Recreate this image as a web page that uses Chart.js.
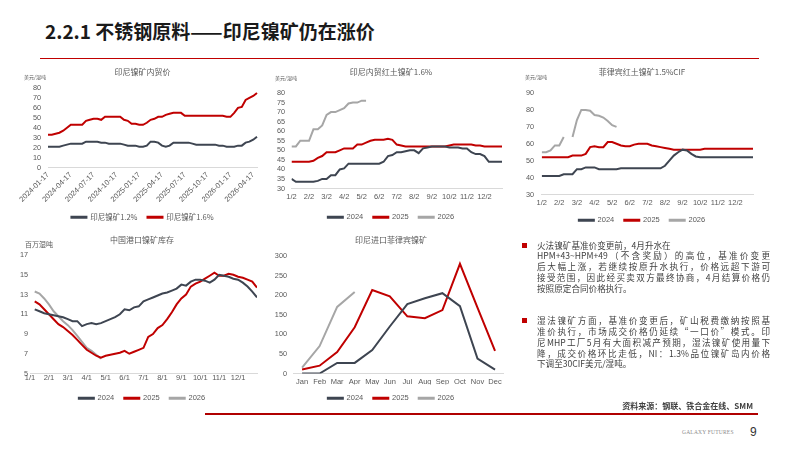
<!DOCTYPE html>
<html><head><meta charset="utf-8">
<script src="https://cdn.jsdelivr.net/npm/chart.js@4.4.1/dist/chart.umd.min.js"></script>
<style>
html,body{margin:0;padding:0;background:#fff;}
body{width:799px;height:450px;position:relative;overflow:hidden;font-family:"Noto Sans CJK SC","Noto Sans",sans-serif;}
.abs{position:absolute;}
.box{position:absolute;}
.title{left:45px;top:20px;font-size:19px;font-weight:bold;color:#1a1a1a;line-height:22px;white-space:nowrap;}
.unit{position:absolute;color:#595959;white-space:nowrap;line-height:1;}
.txt{position:absolute;left:537px;width:233px;font-size:8.6px;line-height:10.8px;color:#3F3F3F;}
.txt div{white-space:nowrap;}
.j{text-align:justify;text-align-last:justify;}
.bul{position:absolute;width:5px;height:5px;background:#C00000;}
</style></head><body>
<div class="abs title">2.2.1 不锈钢原料——印尼镍矿仍在涨价</div>
<div class="abs" style="left:40px;top:57.5px;width:719px;height:1.6px;background:#C00000;"></div>

<div class="box" style="left:12px;top:62px;width:261px;height:169px;"><canvas id="c1"></canvas></div>
<div class="box" style="left:262px;top:62px;width:258px;height:169px;"><canvas id="c2"></canvas></div>
<div class="box" style="left:512px;top:62px;width:260px;height:172px;"><canvas id="c3"></canvas></div>
<div class="box" style="left:12px;top:232px;width:260px;height:180px;"><canvas id="c4"></canvas></div>
<div class="box" style="left:270px;top:232px;width:242px;height:180px;"><canvas id="c5"></canvas></div>

<div class="unit" style="left:24px;top:73.5px;font-size:5px;">美元/湿吨</div>
<div class="unit" style="left:275px;top:74.5px;font-size:5px;">美元/湿吨</div>
<div class="unit" style="left:525px;top:73.5px;font-size:5px;">美元/湿吨</div>
<div class="unit" style="left:25px;top:241px;font-size:7px;">百万湿吨</div>

<div class="bul" style="left:522px;top:242.5px;"></div>
<div class="txt" style="top:239.6px;">
<div>火法镍矿基准价变更前，4月升水在</div>
<div class="j">HPM+43~HPM+49（不含奖励）的高位，基准价变更</div>
<div class="j">后大幅上涨，若继续按原升水执行，价格远超下游可</div>
<div class="j">接受范围，因此经买卖双方最终协商，4月结算价格仍</div>
<div>按照原定合同价格执行。</div>
</div>
<div class="bul" style="left:522px;top:318.2px;"></div>
<div class="txt" style="top:315.3px;">
<div class="j">湿法镍矿方面，基准价变更后，矿山税费缴纳按照基</div>
<div class="j">准价执行，市场成交价格仍延续“一口价”模式。印</div>
<div class="j">尼MHP工厂5月有大面积减产预期，湿法镍矿使用量下</div>
<div class="j">降，成交价格环比走低，NI：1.3%品位镍矿岛内价格</div>
<div>下调至30CIF美元/湿吨。</div>
</div>

<div class="abs" style="right:46px;top:401px;font-size:8px;font-weight:bold;color:#404040;white-space:nowrap;line-height:10px;">资料来源：钢联、铁合金在线、SMM</div>
<div class="abs" style="left:205px;top:412.5px;width:553px;height:2.6px;background:#B00000;"></div>
<div class="abs" style="left:682px;top:429px;font-size:5.5px;font-family:'Liberation Serif',serif;color:#8c8c8c;white-space:nowrap;line-height:6px;letter-spacing:0.2px;">GALAXY FUTURES</div>
<div class="abs" style="left:750px;top:425px;font-size:12px;font-family:'Liberation Sans',sans-serif;color:#333;line-height:14px;">9</div>

<script>
// ---------- DATA ----------
// Chart 1: 印尼镍矿内贸价 (semi-monthly)
const cats1 = ['2024-01-17','2024-02-01','2024-02-17','2024-03-01','2024-03-17','2024-04-01','2024-04-17','2024-05-01','2024-05-17','2024-06-01','2024-06-17','2024-07-01','2024-07-17','2024-08-01','2024-08-17','2024-09-01','2024-09-17','2024-10-01','2024-10-17','2024-11-01','2024-11-17','2024-12-01','2024-12-17','2025-01-01','2025-01-17','2025-02-01','2025-02-17','2025-03-01','2025-03-17','2025-04-01','2025-04-17','2025-05-01','2025-05-17','2025-06-01','2025-06-17','2025-07-01','2025-07-17','2025-08-01','2025-08-17','2025-09-01','2025-09-17','2025-10-01','2025-10-17','2025-11-01','2025-11-17','2025-12-01','2025-12-17','2026-01-01','2026-01-17','2026-02-01','2026-02-17','2026-03-01','2026-03-17','2026-04-01','2026-04-17','2026-05-01'];
const ore12 = [21,21,21,21,22,23,24,24,24,24, 26,26,26,26,25,25,24,24,24,24, 23,22,22,22,21,21,22,26,26,25, 22,21,22,25,25,25,25,25,24,23, 23,23,23,23,23,22,22,21,21,21, 22,22,25,26,28,31];
const ore16 = [33,33,34,35,37,40,43,43,43,43, 47,48,49,49,48,51,51,51,51,51, 48,47,44,44,43,43,45,48,49,51, 51,53,54,55,55,55,52,52,52,52, 52,52,52,52,52,52,52,51,51,55, 60,61,68,70,72,75];
const names1 = ['印尼镍矿1.2%','印尼镍矿1.6%'];

// Chart 2: 印尼内贸红土镍矿1.6% (quarter-month steps from 1/2)
const monthLabels2 = ['1/2','2/2','3/2','4/2','5/2','6/2','7/2','8/2','9/2','10/2','11/2','12/2'];
const dom2024 = [35,33.5,33.5,33.5,33.5,33.5,34,35,35,37, 37,40,40.5,43,43,43,43,43,43,43, 43,44,47,47.5,49,49,49.5,50,50,48.5, 51,51.5,52,52,52,52,51.5,51.5,51.5,51, 51,49,48,48,47,44,44,44,44];
const dom2025 = [44,44,44,44,44,44.5,46,47,49,49, 49,50,51,51,51,53,53,54,55,55.5, 55.5,55.5,56,55.5,53,52.5,52,52,52,52, 52,52,52,52,52,52,52.5,53,53,53, 53,53,52.5,52.5,52,52,52,52,52];
const dom2026 = [52,52,55,55,55,61,61,63,68.5,70,70,71,72,74.5,75,75,76,76];

// Chart 3: 菲律宾红土镍矿1.5%CIF
const ph2024 = [41,41,41,41,41,42,42,42,45,45, 46,46,46,45,45,45,45,45,45.5,45.5, 45.5,45.5,45.5,45.5,45.5,45.5,45.5,45.5,47,50, 53,55,56.5,56,54,52.5,52,52,52,52, 52,52,52,52,52,52,52,52,52];
const ph2025 = [52,52,52,52,52,52,52,53,53,53, 54,58,58.5,58,58,61,61,60,59,58.5, 58.5,59.5,60,60,60,59,58.5,58,57.5,57, 56.5,56.5,56.5,56.5,56.5,56.5,56.5,57,57,57, 57,57,57,57,57,57,57,57,57];
const ph2026 = [55,55,56,59,59,64,null,64,74,80,80,79.5,77,76.5,75.5,73.5,71,70];

// Chart 4: 中国港口镍矿库存 (quarter-month steps from 0.25)
const monthLabels4 = ['1/1','2/1','3/1','4/1','5/1','6/1','7/1','8/1','9/1','10/1','11/1','12/1'];
const inv2024 = [11.5,11.3,11.1,11.0,10.9,10.8,10.7,10.5,10.3,10.3, 9.8,10.0,10.1,10.0,10.1,10.3,10.5,10.7,11.0,11.5, 11.4,11.7,11.8,12.3,12.5,12.7,12.9,13.1,13.2,13.4, 13.6,14.0,13.9,14.3,14.5,14.5,14.4,14.2,14.5,15.0, 14.9,14.8,14.6,14.5,14.2,13.8,13.3,12.7];
const inv2025 = [12.3,12.0,11.5,11.0,10.5,10.0,9.7,9.3,8.9,8.4, 7.9,7.4,7.1,6.8,6.6,6.8,6.9,7.0,7.1,7.3, 7.0,7.2,7.4,7.6,8.7,9.0,9.6,9.9,10.5,11.2, 12.0,12.6,13.0,13.8,14.1,14.3,14.6,14.9,15.2,14.9, 14.9,15.1,15.0,14.8,14.7,14.5,14.3,13.7];
const inv2026 = [13.3,13.1,12.6,12.0,11.3,10.8,10.3,9.9,9.4,8.8,8.2,7.6,7.3,6.9,6.5];

// Chart 5: 印尼进口菲律宾镍矿
const months5 = ['Jan','Feb','Mar','Apr','May','Jun','Jul','Aug','Sep','Oct','Nov','Dec'];
const imp2024 = [0,0,27,27,60,120,177,192,205,172,38,10];
const imp2025 = [10,20,55,118,213,197,146,141,162,280,168,58];
const imp2026 = [15,70,170,208];

const yearNames = ['2024','2025','2026'];

// ---------- STYLE ----------
const LAT = '"Liberation Sans","Noto Sans CJK SC",sans-serif';
const CJK = '"Noto Sans CJK SC","Liberation Sans",sans-serif';
const TICK = '#595959';
const DARK = '#3E4551', RED = '#C00000', GRAY = '#A6A6A6';
Chart.defaults.font.family = LAT;
Chart.defaults.color = TICK;

const STEP = 0.25;
function pts(arr, start){ return arr.map((v,i)=>({x:start+i*STEP, y:v})); }
function ds(label, data, color){
  return {label, data, borderColor:color, backgroundColor:color, borderWidth:2, pointRadius:0, pointHoverRadius:0, tension:0, fill:false, spanGaps:false};
}
function monthAxis(labels, pad, h){
  return {type:'linear', min:0, max:12,
    afterBuildTicks: s => { s.ticks = labels.map((_,i)=>({value:i})); },
    ticks:{autoSkip:false, maxRotation:0, minRotation:0, padding:pad, color:TICK, font:{size:7.5},
      callback: v => labels[Math.round(v)]},
    grid:{display:false, drawTicks:false}, border:{display:true, color:'#D9D9D9', width:1},
    afterFit: s => { s.height = h; }};
}
function opts(o){
  return {
    responsive:true, maintainAspectRatio:false, animation:false,
    layout:{padding:0},
    plugins:{
      title:{display:true, text:o.title, color:TICK, font:{size:8, family:CJK, weight:'normal'}, padding:{top:o.tTop, bottom:o.tBot}},
      legend:{position:'bottom', labels:{boxWidth:15, boxHeight:1, padding:10, color:TICK, font:{size:o.lgSize||7.5, family:o.lgFont||LAT}}},
      tooltip:{enabled:false}
    },
    scales:{
      x:o.x,
      y:{min:o.yMin, max:o.yMax, ticks:{stepSize:o.yStep, autoSkip:false, padding:o.yPad, color:TICK, font:{size:7.3}},
         grid:{display:false, drawTicks:false}, border:{display:false},
         afterFit: s => { s.width = o.yW; }},
      yR:{position:'right', display:true, grid:{display:false, drawTicks:false}, border:{display:false}, ticks:{display:false},
         afterFit: s => { s.width = o.rW; }}
    }
  };
}

// Chart 1
new Chart(document.getElementById('c1'), {
  type:'line',
  data:{labels:cats1, datasets:[ds(names1[0], ore12, DARK), ds(names1[1], ore16, RED)]},
  options:opts({title:'印尼镍矿内贸价', tTop:5.2, tBot:11.2, yMin:0, yMax:80, yStep:10, yPad:7, yW:36, rW:16, lgFont:CJK,
    x:{type:'category', offset:false,
      afterBuildTicks: s => { s.ticks = s.ticks.filter(t => t.value % 6 === 0); },
      ticks:{autoSkip:false, maxRotation:45, minRotation:45, padding:3, color:TICK, font:{size:7.5}},
      grid:{display:false, drawTicks:false}, border:{display:true, color:'#D9D9D9', width:1},
      afterFit: s => { s.height = 36; }}})
});

// Chart 2
new Chart(document.getElementById('c2'), {
  type:'line',
  data:{datasets:[ds(yearNames[0], pts(dom2024,0), DARK), ds(yearNames[1], pts(dom2025,0), RED), ds(yearNames[2], pts(dom2026,0), GRAY)]},
  options:opts({title:'印尼内贸红土镍矿1.6%', tTop:5.2, tBot:16.2, yMin:30, yMax:80, yStep:5, yPad:6.5, yW:29.5, rW:18,
    x:monthAxis(monthLabels2, 4, 15)})
});

// Chart 3
new Chart(document.getElementById('c3'), {
  type:'line',
  data:{datasets:[ds(yearNames[0], pts(ph2024,0), DARK), ds(yearNames[1], pts(ph2025,0), RED), ds(yearNames[2], pts(ph2026,0), GRAY)]},
  options:opts({title:'菲律宾红土镍矿1.5%CIF', tTop:5.2, tBot:16.2, yMin:30, yMax:90, yStep:10, yPad:7.7, yW:29.7, rW:19,
    x:monthAxis(monthLabels2, 4, 12)})
});

// Chart 4
new Chart(document.getElementById('c4'), {
  type:'line',
  data:{datasets:[ds(yearNames[0], pts(inv2024,0.25), DARK), ds(yearNames[1], pts(inv2025,0.25), RED), ds(yearNames[2], pts(inv2026,0.25), GRAY)]},
  options:opts({title:'中国港口镍矿库存', tTop:3.2, tBot:10.2, yMin:5, yMax:17, yStep:2, yPad:2, yW:18, rW:15,
    x:monthAxis(monthLabels4, 0, 11)})
});

// Chart 5
new Chart(document.getElementById('c5'), {
  type:'line',
  data:{labels:months5, datasets:[ds(yearNames[0], imp2024, DARK), ds(yearNames[1], imp2025, RED), ds(yearNames[2], imp2026, GRAY)]},
  options:opts({title:'印尼进口菲律宾镍矿', tTop:3.2, tBot:11.2, yMin:0, yMax:300, yStep:50, yPad:6.3, yW:23.3, rW:8.2,
    x:{type:'category', offset:true,
      ticks:{autoSkip:false, maxRotation:0, minRotation:0, padding:4, color:TICK, font:{size:7.5}},
      grid:{display:false, drawTicks:false}, border:{display:true, color:'#D9D9D9', width:1},
      afterFit: s => { s.height = 11; }}})
});
</script>
</body></html>
